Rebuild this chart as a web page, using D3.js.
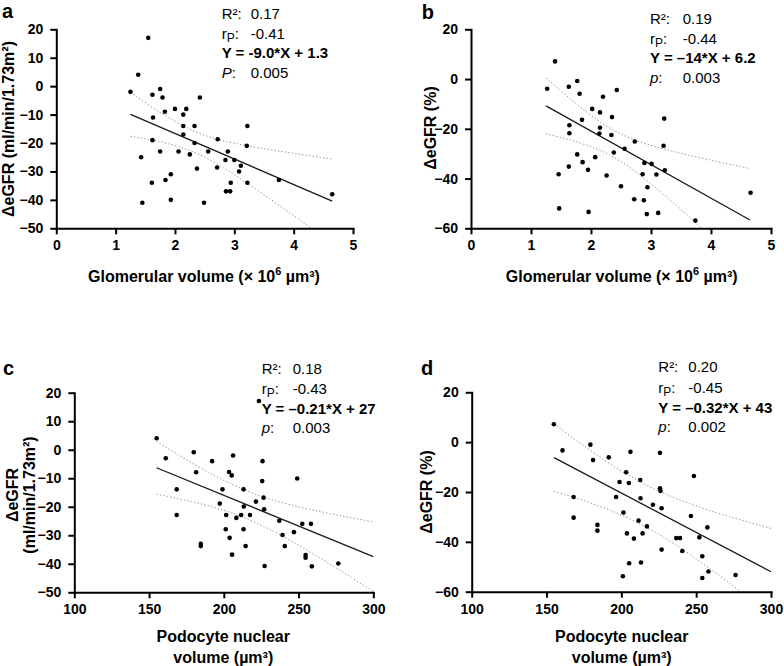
<!DOCTYPE html>
<html><head><meta charset="utf-8">
<script src="https://cdn.jsdelivr.net/npm/d3@7"></script>
<style>
body{margin:0;background:#fff;}
svg{display:block;font-family:"Liberation Sans",Arial,sans-serif;}
</style></head>
<body>
<svg id="chart" width="784" height="666"></svg>
<script>
// ---------- DATA ----------
const glomVolA = [1.25,1.38,1.55,1.43,1.45,1.62,1.63,1.62,1.61,1.75,1.79,1.75,1.83,1.84,1.93,1.93,2.00,2.06,2.14,2.14,2.14,2.19,2.25,2.33,2.33,2.37,2.42,2.49,2.56,2.71,2.72,2.85,2.89,2.86,2.93,2.94,3.00,3.08,3.11,3.21,3.22,3.22,3.75,4.65];
const deltaEgfrA = [-2,4,17,-25,-41,-3,-11,-19,-34,-1,-4,-23,-9,-33,-31,-40,-8,-23,-10,-14,-17,-8,-24,-14,-20,-29,-4,-41,-23,-28.6,-18.7,-26,-23,-37,-37,-34,-26,-30,-28,-21,-14,-34,-33,-38];

const glomVolB = [1.27,1.40,1.46,1.47,1.63,1.64,1.64,1.63,1.77,1.81,1.77,1.85,1.86,1.95,1.96,2.02,2.07,2.15,2.15,2.14,2.20,2.26,2.35,2.34,2.38,2.43,2.50,2.56,2.72,2.73,2.86,2.88,2.89,2.93,2.94,3.01,3.09,3.12,3.22,3.21,3.23,3.74,4.66];
const deltaEgfrPctB = [-3.9,7.1,-38.3,-52,-3.1,-18.6,-21.8,-35.2,-0.8,-5.9,-30.3,-16.4,-33.4,-36.5,-53.4,-12,-31.4,-13.4,-19.6,-21.9,-7.1,-38.8,-15.3,-22.5,-29.5,-4.4,-43.1,-28,-48.3,-25.1,-38.3,-48.7,-33.7,-54.3,-43.5,-34.1,-38.4,-53.8,-15.9,-26.8,-36.7,-56.9,-45.7];

const podoVolC = [155.1,161.2,168.5,168.5,179.9,181.5,184.6,184.6,192.2,197.3,199.1,201.6,201.3,203.5,205.3,203.9,206.2,205.5,208.4,211.6,213.2,213.4,213.2,214.6,217.5,221.5,225.9,225.7,226.6,227.0,227.3,237.1,239.3,240.8,246.9,249.1,252.5,254.7,254.7,258.3,258.9,276.6,223.5];
const deltaEgfrC = [4,-3,-13.9,-22.9,-0.9,-7.9,-33,-33.8,-4,-18.9,-13.9,-22.9,-27.9,-7.8,-9,-30.9,-2,-36.8,-23.9,-22.9,-13.9,-19.9,-27.9,-33.8,-22.9,-18.2,-4,-11,-16.8,-20.9,-40.8,-24.9,-29.9,-33.8,-28.9,-10.1,-26,-36.9,-37.9,-26,-40.9,-39.9,17.1];

const podoVolD = [154.9,160.7,168.1,168.1,179.3,181.1,184,184,191.6,196.5,198.8,201.4,201,203.2,205,203.7,206.1,205.2,208.4,211.5,212.6,212.8,213.1,214.2,217.1,221.1,225.8,225.8,226.2,226.9,226.9,236.7,239.2,240.7,246.5,248.5,252.1,254.1,254.1,257.5,258.2,276.3];
const deltaEgfrPctD = [7.2,-3.3,-22,-30.3,-1,-7.2,-33.2,-35.5,-6.1,-22,-16,-28.2,-53.8,-12.1,-16.4,-36.6,-3.9,-48.6,-38.7,-31.5,-15.2,-22.5,-48.3,-36.6,-33.8,-25.1,-4.3,-18.5,-19.6,-26.5,-43.1,-38.5,-38.5,-43.7,-29.6,-13.6,-38.2,-45.8,-54.5,-34.2,-51.9,-53.3];

// regression (slope, intercept) and fitted x-range per panel
const fitSlopes = [-8.97, -13.5, -0.215, -0.316];
const fitIntercepts = [1.3, 6.1, 27.0, 42.8];
const fitRanges = [[1.25,4.65],[1.25,4.65],[155,300],[155,300]];
// 95% CI half-widths read at the left and right ends of each fitted range
const ciHalfWidths = [[7.7,14.8],[11.2,20.7],[9.25,12.2],[13.5,17.4]];

// tick labels
const xTicksGlom = [0,1,2,3,4,5];
const xTicksPodo = [100,150,200,250,300];
const yTicksAbs = [20,10,0,-10,-20,-30,-40,-50];
const yTicksPct = [20,0,-20,-40,-60];

// stats text
const panelLetters = ["a","b","c","d"];
const r2Values = ["0.17","0.19","0.18","0.20"];
const rpValues = ["-0.41","-0.44","-0.43","-0.45"];
const eqSlopeText = ["-9.0","–14","–0.21","–0.32"];
const eqInterceptText = ["1.3","6.2","27","43"];
const pLabels = ["P","p","p","p"];
const pValues = ["0.005","0.003","0.003","0.002"];

// ---------- LAYOUT ----------
const panels = [
  {x: glomVolA, y: deltaEgfrA, xDom:[0,5], yDom:[-50,20], xTicks:xTicksGlom, yTicks:yTicksAbs,
   L:56.3, R:353, T:29.3, B:228.3, letter:[2,18], stats:{lx:221.7, vx:250.7, base:[19,38.5,58,77.5]},
   xTitle:["Glomerular volume (× 10","6"," µm³)"], xTitleX:204, xTitleY:[281.7],
   yTitle:["ΔeGFR (ml/min/1.73m²)"], yTitleX:[13.5], yTitleY:129},
  {x: glomVolB, y: deltaEgfrPctB, xDom:[0,5], yDom:[-60,20], xTicks:xTicksGlom, yTicks:yTicksPct,
   L:471, R:771, T:29.3, B:228.3, letter:[421.7,18.5], stats:{lx:650, vx:682.7, base:[24,43.5,63,82.5]},
   xTitle:["Glomerular volume (× 10","6"," µm³)"], xTitleX:621.7, xTitleY:[282],
   yTitle:["ΔeGFR (%)"], yTitleX:[436], yTitleY:128},
  {x: podoVolC, y: deltaEgfrC, xDom:[100,300], yDom:[-50,20], xTicks:xTicksPodo, yTicks:yTicksAbs,
   L:74.3, R:373.3, T:392.7, B:592.3, letter:[3,375], stats:{lx:261.7, vx:292.7, base:[374.3,394,414.3,432.5]},
   xTitle:["Podocyte nuclear","volume (µm³)"], xTitleX:223.3, xTitleY:[642,663],
   yTitle:["ΔeGFR","(ml/min/1.73m²)"], yTitleX:[18,35], yTitleY:495},
  {x: podoVolD, y: deltaEgfrPctD, xDom:[100,300], yDom:[-60,20], xTicks:xTicksPodo, yTicks:yTicksPct,
   L:471.7, R:771, T:392.3, B:591.7, letter:[421,375], stats:{lx:658.3, vx:688.3, base:[371.7,392.7,412.7,431.7]},
   xTitle:["Podocyte nuclear","volume (µm³)"], xTitleX:621.7, xTitleY:[642,663],
   yTitle:["ΔeGFR (%)"], yTitleX:[432], yTitleY:492}
];

const svg = d3.select("#chart");
const defs = svg.append("defs");

panels.forEach((p, i) => {
  const xs = d3.scaleLinear().domain(p.xDom).range([p.L, p.R]);
  const ys = d3.scaleLinear().domain(p.yDom).range([p.B, p.T]);
  const g = svg.append("g");

  defs.append("clipPath").attr("id","clip"+i)
    .append("rect").attr("x",p.L).attr("y",p.T-20).attr("width",p.R-p.L+2).attr("height",p.B-p.T+20);

  // confidence bands: hyperbolic half-width sqrt(A + B (x - mean)^2), anchored at the read end widths
  const slope = fitSlopes[i], icpt = fitIntercepts[i];
  const xbar = d3.mean(p.x);
  const [x0,x1] = fitRanges[i];
  const [h0,h1] = ciHalfWidths[i];
  const d0 = (x0-xbar)*(x0-xbar), d1 = (x1-xbar)*(x1-xbar);
  const B = (h1*h1 - h0*h0)/(d1 - d0);
  const A = h0*h0 - B*d0;
  const half = v => Math.sqrt(Math.max(0, A + B*(v-xbar)*(v-xbar)));
  const xsamp = d3.range(0,101).map(k => x0 + (x1-x0)*k/100);
  const lineGen = d3.line().x(d => xs(d[0])).y(d => ys(d[1]));
  const bandG = g.append("g").attr("clip-path","url(#clip"+i+")");
  [1,-1].forEach(sg => {
    bandG.append("path")
      .attr("d", lineGen(xsamp.map(v => [v, slope*v+icpt + sg*half(v)])))
      .attr("fill","none").attr("stroke","#8a8a8a").attr("stroke-width",1)
      .attr("stroke-dasharray","1.3,2.2");
  });
  // regression line
  bandG.append("path")
    .attr("d", lineGen([[x0, slope*x0+icpt],[x1, slope*x1+icpt]]))
    .attr("fill","none").attr("stroke","#1a1a1a").attr("stroke-width",1.3);

  // points
  g.append("g").selectAll("circle").data(p.x.map((v,k)=>[v,p.y[k]])).join("circle")
    .attr("cx", d => xs(d[0])).attr("cy", d => ys(d[1])).attr("r", 2.3).attr("fill","#000");

  // axes
  const xAxis = d3.axisBottom(xs).tickValues(p.xTicks).tickSize(6).tickSizeOuter(0).tickPadding(6).tickFormat(d3.format("d"));
  const yAxis = d3.axisLeft(ys).tickValues(p.yTicks).tickSize(6).tickSizeOuter(0).tickPadding(7).tickFormat(d3.format("d"));
  const styleAxis = sel => {
    sel.selectAll("path").attr("stroke","#000").attr("stroke-width",2).attr("stroke-linecap","square");
    sel.selectAll("line").attr("stroke","#000").attr("stroke-width",2);
    sel.selectAll("text").attr("fill","#000").attr("font-size",14).attr("font-weight","bold")
      .attr("font-family","'Liberation Sans',Arial,sans-serif");
  };
  g.append("g").attr("transform",`translate(0,${p.B})`).call(xAxis).call(styleAxis);
  g.append("g").attr("transform",`translate(${p.L},0)`).call(yAxis).call(styleAxis);

  // x title
  if (p.xTitle.length === 3) {
    const t = g.append("text").attr("x",p.xTitleX).attr("y",p.xTitleY[0]).attr("text-anchor","middle")
      .attr("font-size",16).attr("font-weight","bold");
    t.append("tspan").text(p.xTitle[0]);
    t.append("tspan").attr("dy",-7).attr("font-size",11).text(p.xTitle[1]);
    t.append("tspan").attr("dy",7).text(p.xTitle[2]);
  } else {
    p.xTitle.forEach((s,k) => g.append("text").attr("x",p.xTitleX).attr("y",p.xTitleY[k])
      .attr("text-anchor","middle").attr("font-size",16).attr("font-weight","bold").text(s));
  }
  // y title
  p.yTitle.forEach((s,k) => g.append("text")
    .attr("transform",`translate(${p.yTitleX[k]},${p.yTitleY}) rotate(-90)`)
    .attr("text-anchor","middle").attr("font-size",16).attr("font-weight","bold").text(s));

  // panel letter
  g.append("text").attr("x",p.letter[0]).attr("y",p.letter[1]).attr("font-size",20)
    .attr("font-weight","bold").text(panelLetters[i]);

  // stats
  const st = p.stats;
  const fs = 15;
  g.append("text").attr("x",st.lx).attr("y",st.base[0]).attr("font-size",fs).text("R²:");
  g.append("text").attr("x",st.vx).attr("y",st.base[0]).attr("font-size",fs).text(r2Values[i]);
  const rp = g.append("text").attr("x",st.lx).attr("y",st.base[1]).attr("font-size",fs);
  rp.append("tspan").text("r");
  rp.append("tspan").attr("font-size",12).attr("dy",3).text("P");
  rp.append("tspan").attr("dy",-3).text(":");
  g.append("text").attr("x",st.vx).attr("y",st.base[1]).attr("font-size",fs).text(rpValues[i]);
  g.append("text").attr("x",st.lx).attr("y",st.base[2]).attr("font-size",fs).attr("font-weight","bold")
    .text(`Y = ${eqSlopeText[i]}*X + ${eqInterceptText[i]}`);
  const pt = g.append("text").attr("x",st.lx).attr("y",st.base[3]).attr("font-size",fs);
  pt.append("tspan").attr("font-style","italic").text(pLabels[i]);
  pt.append("tspan").text(":");
  g.append("text").attr("x",st.vx).attr("y",st.base[3]).attr("font-size",fs).text(pValues[i]);
});
</script>
</body></html>
